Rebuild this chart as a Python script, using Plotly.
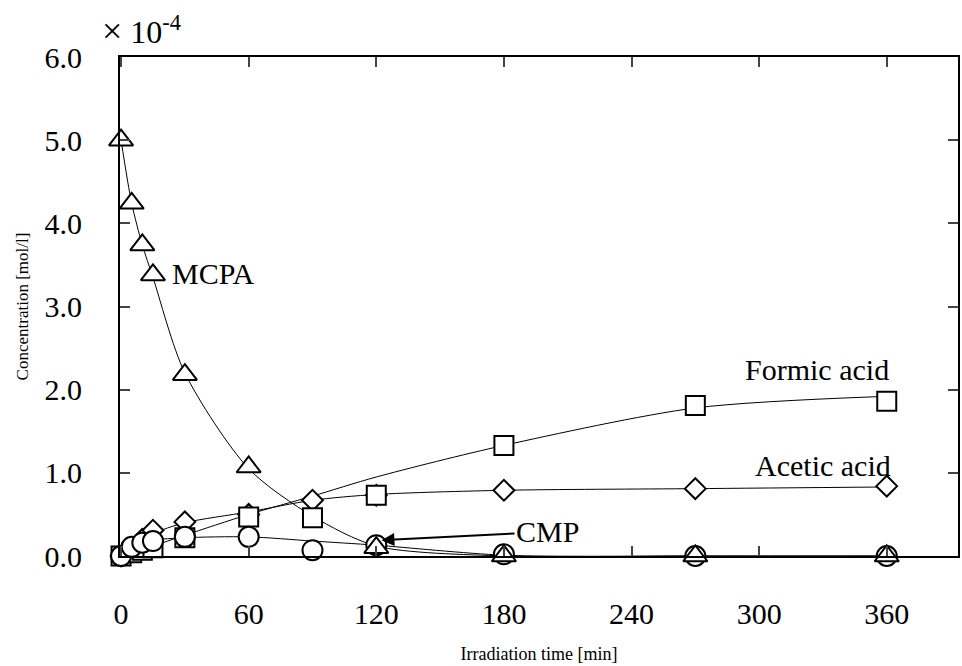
import plotly.graph_objects as go

# ---- data (concentration in 1e-4 mol/l) ----
t_mcpa = [0, 5, 10, 15, 30, 60, 120, 180, 270, 360]
mcpa = [5.0, 4.24, 3.74, 3.38, 2.18, 1.07, 0.1, 0.0, 0.0, 0.0]

t_all = [0, 5, 10, 15, 30, 60, 90, 120, 180, 270, 360]
formic = [0.0, 0.04, 0.07, 0.1, 0.22, 0.47, 0.46, 0.73, 1.33, 1.81, 1.86]
acetic = [0.0, 0.1, 0.2, 0.31, 0.41, 0.5, 0.67, 0.73, 0.79, 0.81, 0.84]
cmp_ = [0.0, 0.11, 0.16, 0.18, 0.23, 0.23, 0.07, 0.13, 0.02, 0.0, 0.0]

# fitted-curve knots
t_fit = [0, 5, 10, 15, 30, 60, 90, 120, 180, 270, 360]
mcpa_fit = [5.0, 4.24, 3.74, 3.35, 2.2, 1.05, 0.48, 0.12, 0.0, 0.0, 0.0]
formic_fit = [0.0, 0.04, 0.08, 0.12, 0.25, 0.5, 0.72, 0.95, 1.33, 1.78, 1.92]
acetic_fit = [0.0, 0.1, 0.19, 0.27, 0.4, 0.53, 0.67, 0.74, 0.79, 0.81, 0.83]
cmp_fit = [0.0, 0.11, 0.16, 0.19, 0.22, 0.23, 0.18, 0.13, 0.01, 0.0, 0.0]

x_ticks = [0, 60, 120, 180, 240, 300, 360]
y_ticks = [0, 1, 2, 3, 4, 5, 6]

FONT = "Liberation Serif"
fig = go.Figure()

for yy in [mcpa_fit, formic_fit, acetic_fit, cmp_fit]:
    fig.add_trace(go.Scatter(x=t_fit, y=yy, mode="lines",
                             line=dict(color="black", width=1, shape="spline", smoothing=0.8),
                             showlegend=False, hoverinfo="skip", cliponaxis=False))

mk = dict(color="white", line=dict(color="black", width=2))
fig.add_trace(go.Scatter(x=t_all, y=acetic, mode="markers", cliponaxis=False, showlegend=False,
                         marker=dict(symbol="diamond", size=16, **mk)))
fig.add_trace(go.Scatter(x=t_all, y=formic, mode="markers", cliponaxis=False, showlegend=False,
                         marker=dict(symbol="square", size=19, **mk)))
fig.add_trace(go.Scatter(x=t_all, y=cmp_, mode="markers", cliponaxis=False, showlegend=False,
                         marker=dict(symbol="circle", size=20, **mk)))
fig.add_trace(go.Scatter(x=t_mcpa, y=mcpa, mode="markers", cliponaxis=False, showlegend=False,
                         marker=dict(symbol="triangle-up", size=21, **mk)))

tf = dict(family=FONT, size=30, color="black")
fig.update_layout(
    width=962, height=666,
    margin=dict(l=120, r=2, t=57, b=110),
    paper_bgcolor="white", plot_bgcolor="white",
    xaxis=dict(range=[-0.5, 393.5], tickvals=x_ticks, ticks="inside", ticklen=10, tickwidth=2,
               showline=True, linewidth=2, linecolor="black", mirror="ticks", showgrid=False,
               zeroline=False, tickfont=tf, ticklabelstandoff=30,
               title=dict(text="Irradiation time [min]", font=dict(family=FONT, size=18, color="black"),
                          standoff=18)),
    yaxis=dict(range=[0, 6], tickvals=y_ticks, tickformat=".1f", ticks="inside", ticklen=10, tickwidth=2,
               showline=True, linewidth=2, linecolor="black", mirror="ticks", showgrid=False,
               zeroline=False, tickfont=tf, ticklabelstandoff=30,
               title=dict(text="Concentration [mol/l]", font=dict(family=FONT, size=17, color="black"),
                          standoff=12)),
    font=dict(family=FONT, color="black"),
)

fig.add_annotation(xref="paper", yref="paper", x=-0.024, y=1.0, yshift=27, xanchor="left", yanchor="middle",
                   text="<span style='font-size:36px'>×</span> 10<sup>-4</sup>", showarrow=False,
                   font=dict(family=FONT, size=32, color="black"))
fig.add_annotation(x=23, y=3.4, xanchor="left", yanchor="middle", text="MCPA", showarrow=False, font=tf)
fig.add_annotation(x=362, y=2.24, xanchor="right", yanchor="middle", text="Formic acid", showarrow=False, font=tf)
fig.add_annotation(x=363, y=1.09, xanchor="right", yanchor="middle", text="Acetic acid", showarrow=False, font=tf)
fig.add_annotation(x=122.4, y=0.19, ax=200.5, ay=0.29, axref="x", ayref="y", xref="x", yref="y",
                   text="CMP", font=tf, showarrow=True, arrowhead=2, arrowsize=1.3, arrowwidth=2,
                   arrowcolor="black")

fig.write_html("out.html")
